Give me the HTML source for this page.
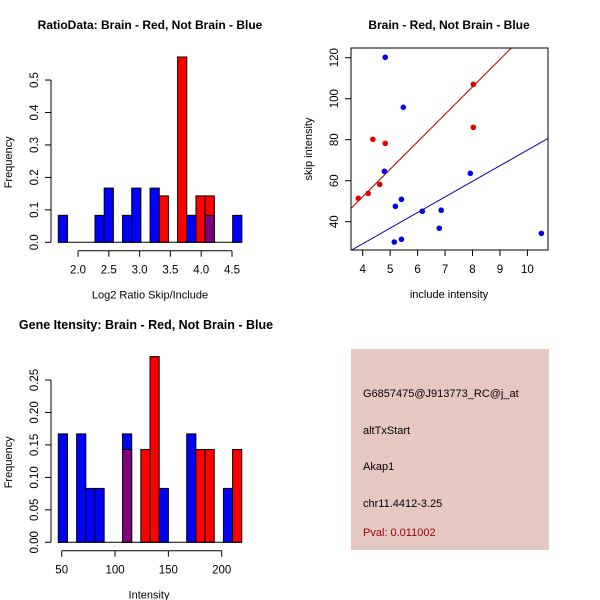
<!DOCTYPE html>
<html><head><meta charset="utf-8"><style>
html,body{margin:0;padding:0;background:#fff;}
svg{display:block;font-family:"Liberation Sans",sans-serif;}
</style></head><body>
<svg id="c" width="600" height="600" viewBox="0 0 600 600">
<rect width="600" height="600" fill="#fff"/>
<text x="150" y="29" font-size="12" font-weight="bold" text-anchor="middle">RatioData: Brain - Red, Not Brain - Blue</text>
<text x="449" y="29" font-size="12" font-weight="bold" text-anchor="middle">Brain - Red, Not Brain - Blue</text>
<text x="146" y="329" font-size="12.5" font-weight="bold" text-anchor="middle">Gene Itensity: Brain - Red, Not Brain - Blue</text>
<g id="p1"></g>
<g id="p2"></g>
<g id="p3"></g>
<g>
<rect x="351" y="349" width="198" height="201" fill="#e6c8c2"/>
<text x="363" y="397" font-size="11">G6857475@J913773_RC@j_at</text>
<text x="363" y="434" font-size="11">altTxStart</text>
<text x="363" y="470" font-size="11">Akap1</text>
<text x="363" y="507" font-size="11">chr11.4412-3.25</text>
<text x="363" y="536" font-size="11" fill="#a00000">Pval: 0.011002</text>
</g>
</svg>
<script>
// Ratio histogram data
const ratioBinStart = 1.68, ratioBinWidth = 0.149;
const ratioBlue = [0.083,0,0,0,0.083,0.167,0,0.083,0.167,0,0.167,0,0,0,0.083,0,0.083,0,0,0.083];
const ratioRed  = [0,0,0,0,0,0,0,0,0,0,0,0.143,0,0.571,0,0.143,0.143,0,0,0];
const ratioXTicks = [2.0,2.5,3.0,3.5,4.0,4.5];
const ratioYTicks = [0.0,0.1,0.2,0.3,0.4,0.5];
// Intensity histogram data
const intBinStart = 46.8, intBinWidth = 8.6;
const intBlue = [0.167,0,0.167,0.083,0.083,0,0,0.167,0,0,0,0.083,0,0,0.167,0,0,0,0.083,0];
const intRed  = [0,0,0,0,0,0,0,0.143,0,0.143,0.286,0,0,0,0,0.143,0.143,0,0,0.143];
const intXTicks = [50,100,150,200];
const intYTicks = [0.00,0.05,0.10,0.15,0.20,0.25];
// Scatter data
const redX = [3.84,4.20,4.37,4.62,4.82,8.03,8.03];
const redY = [51.4,53.8,80.2,58.2,78.2,107.0,86.0];
const blueX = [4.82,5.48,4.79,5.41,5.19,6.17,6.86,6.79,7.92,5.15,5.41,10.51];
const blueY = [120.2,95.8,64.6,50.9,47.5,45.1,45.6,36.8,63.6,30.1,31.4,34.3];
const redFit = [-1.4,13.4];   // intercept, slope
const blueFit = [-1.2,7.61];
const scatXTicks = [4,5,6,7,8,9,10];
const scatYTicks = [40,60,80,100,120];

const NS='http://www.w3.org/2000/svg';
function mk(parent,tag,attrs,text){const e=document.createElementNS(NS,tag);for(const k in attrs)e.setAttribute(k,attrs[k]);if(text!==undefined)e.textContent=text;parent.appendChild(e);return e;}

function hist(g,o){
  const sx=v=>o.x0+(v-o.dx0)*o.kx, sy=v=>o.y0-v*o.ky;
  const n=o.blue.length;
  for(let i=0;i<n;i++){
    const a=sx(o.start+i*o.w), b=sx(o.start+(i+1)*o.w);
    const bl=o.blue[i], rd=o.red[i], lo=Math.min(bl,rd), hi=Math.max(bl,rd);
    if(hi<=0) continue;
    const topCol = bl>rd?'#0000ff':'#ff0000';
    const r1=mk(g,'rect',{x:a,y:sy(hi),width:b-a,height:sy(0)-sy(hi),fill:topCol,stroke:'#000','stroke-width':1});
    
    
    if(lo>0){
      const r2=mk(g,'rect',{x:a,y:sy(lo),width:b-a,height:sy(0)-sy(lo),fill:'#800080',stroke:'#000','stroke-width':1});
      
      
    }
  }
  mk(g,'line',{x1:sx(o.start),x2:sx(o.start+n*o.w),y1:sy(0),y2:sy(0),stroke:'#000'});
  const ax=mk(g,'g',{});
  
  
  const xt=o.xticks;
  mk(ax,'line',{x1:sx(xt[0]),x2:sx(xt[xt.length-1]),y1:o.axY,y2:o.axY,stroke:'#000'});
  xt.forEach(t=>{mk(ax,'line',{x1:sx(t),x2:sx(t),y1:o.axY,y2:o.axY+6,stroke:'#000'});
    mk(ax,'text',{x:sx(t),y:o.axY+23,'font-size':11.5,'text-anchor':'middle'},o.xfmt(t));});
  const xl=mk(g,'text',{x:o.xlabX,y:o.axY+48,'font-size':11,'text-anchor':'middle'},o.xlab);
  
  
  const ay=mk(g,'g',{});
  
  
  const yt=o.yticks;
  mk(ay,'line',{x1:51,x2:51,y1:sy(yt[0]),y2:sy(yt[yt.length-1]),stroke:'#000'});
  yt.forEach(t=>{mk(ay,'line',{x1:45,x2:51,y1:sy(t),y2:sy(t),stroke:'#000'});
    mk(ay,'text',{x:0,y:0,'font-size':11.5,'text-anchor':'middle',transform:`translate(38,${sy(t)}) rotate(-90)`},o.yfmt(t));});
  const yl=mk(g,'text',{x:0,y:0,'font-size':11,'text-anchor':'middle',transform:`translate(12,${o.y0-80}) rotate(-90)`},'Frequency');
  
  
}

hist(document.getElementById('p1'),{x0:78,dx0:2.0,kx:61.6,y0:242.3,ky:324.5,start:ratioBinStart,w:ratioBinWidth,
  blue:ratioBlue,red:ratioRed,xticks:ratioXTicks,yticks:ratioYTicks,axY:250.7,xlab:'Log2 Ratio Skip/Include',xlabX:150,
  xfmt:t=>t.toFixed(1),yfmt:t=>t.toFixed(1)});
hist(document.getElementById('p3'),{x0:61.7,dx0:50,kx:1.0667,y0:542.3,ky:649.2,start:intBinStart,w:intBinWidth,
  blue:intBlue,red:intRed,xticks:intXTicks,yticks:intYTicks,axY:550.7,xlab:'Intensity',xlabX:149,
  xfmt:t=>String(t),yfmt:t=>t.toFixed(2)});

(function(){
  const g=document.getElementById('p2');
  const L=351,R=548,T=48,B=250;
  const sx=v=>362.7+(v-4)*27.45, sy=v=>57.7+(120-v)*2.05;
  const cp=mk(g,'clipPath',{id:'clip2'});mk(cp,'rect',{x:L,y:T,width:R-L,height:B-T});
  const xmin=3.57,xmax=10.74;
  [[redFit,'#a00000','fit-line-red'],[blueFit,'#0000a0','fit-line-blue']].forEach(([f,c,n])=>{
    const l=mk(g,'line',{x1:sx(xmin),y1:sy(f[0]+f[1]*xmin),x2:sx(xmax),y2:sy(f[0]+f[1]*xmax),stroke:c,'stroke-width':1,'clip-path':'url(#clip2)'});
    
    
  });
  redX.forEach((x,i)=>{const p=mk(g,'circle',{cx:sx(x),cy:sy(redY[i]),r:2.8,fill:'#e00000'});
    
    });
  blueX.forEach((x,i)=>{const p=mk(g,'circle',{cx:sx(x),cy:sy(blueY[i]),r:2.8,fill:'#0000e0'});
    
    });
  const box=mk(g,'rect',{x:L,y:T,width:R-L,height:B-T,fill:'none',stroke:'#000'});
  
  
  scatXTicks.forEach(t=>{mk(g,'line',{x1:sx(t),x2:sx(t),y1:B,y2:B+6,stroke:'#000'});
    mk(g,'text',{x:sx(t),y:B+23,'font-size':11.5,'text-anchor':'middle'},String(t));});
  scatYTicks.forEach(t=>{mk(g,'line',{x1:L-6,x2:L,y1:sy(t),y2:sy(t),stroke:'#000'});
    mk(g,'text',{x:0,y:0,'font-size':11.5,'text-anchor':'middle',transform:`translate(${L-13},${sy(t)}) rotate(-90)`},String(t));});
  const xl=mk(g,'text',{x:449,y:298,'font-size':11,'text-anchor':'middle'},'include intensity');
  
  
  const yl=mk(g,'text',{x:0,y:0,'font-size':11,'text-anchor':'middle',transform:'translate(312,149) rotate(-90)'},'skip intensity');
  
  
})();
</script>
</body></html>
